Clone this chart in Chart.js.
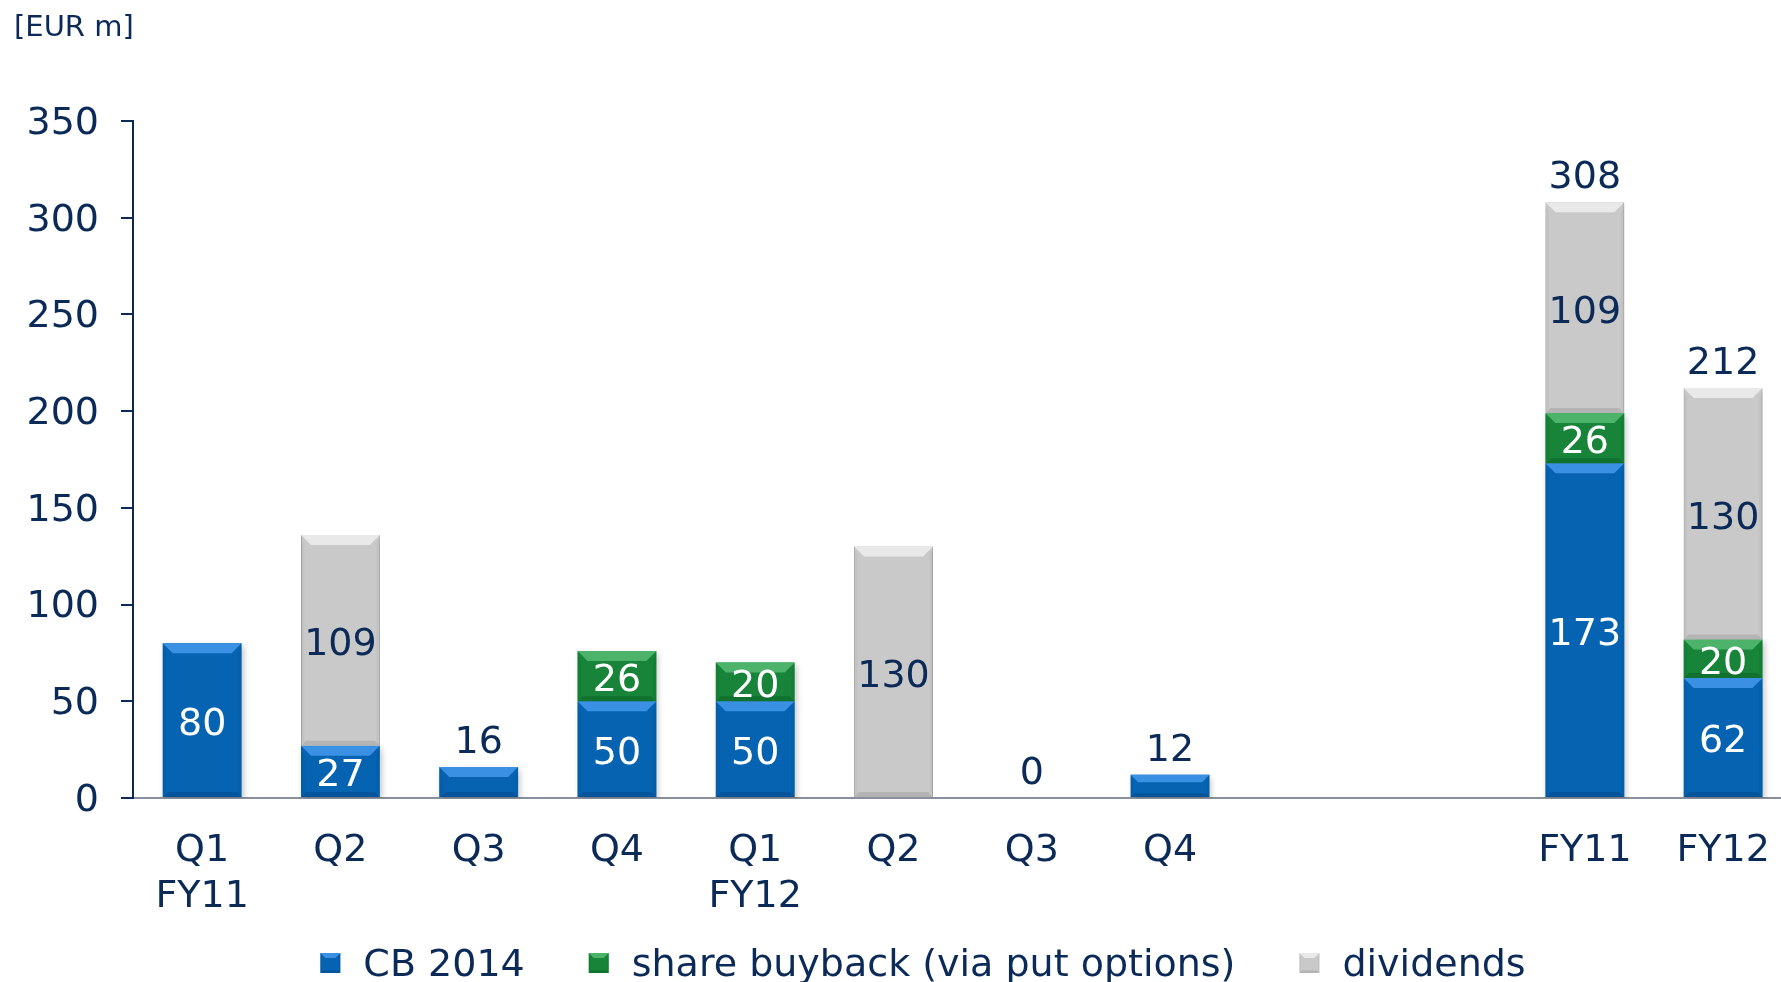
<!DOCTYPE html>
<html>
<head>
<meta charset="utf-8">
<script src="https://cdn.jsdelivr.net/npm/chart.js@4.4.1/dist/chart.umd.min.js"></script>
<style>
  html, body { margin: 0; padding: 0; background: #fff; overflow: hidden; }
  #wrap { width: 1800px; height: 982px; }
</style>
</head>
<body>
<div id="wrap"><canvas id="payout_chart"></canvas></div>
<script>
// data
var categories = [['Q1', 'FY11'], 'Q2', 'Q3', 'Q4', ['Q1', 'FY12'], 'Q2', 'Q3', 'Q4', '', '', 'FY11', 'FY12']
var cb2014 = [80, 27, 16, 50, 50, null, 0, 12, null, null, 173, 62]
var buyback = [null, null, null, 26, 20, null, null, null, null, null, 26, 20]
var dividends = [null, 109, null, null, null, 130, null, null, null, null, 109, 130]
var topLabels = [null, null, 16, null, null, null, 0, 12, null, null, 308, 212]
var yTicks = [0, 50, 100, 150, 200, 250, 300, 350]

var navy = '#0b2a57'
var fontFamily = '"DejaVu Sans", Verdana, sans-serif'

// draws the bevelled look on top of a flat rectangle
function bevel(ctx, l, t, r, b, light, dark, d) {
  if (b - t <= 1) return
  d = Math.min(d, (b - t) / 3)
  var db = d * 0.5
  ctx.fillStyle = light
  ctx.beginPath()
  ctx.moveTo(l, t); ctx.lineTo(r, t); ctx.lineTo(r - d, t + d); ctx.lineTo(l + d, t + d)
  ctx.closePath(); ctx.fill()
  ctx.fillStyle = dark
  ctx.beginPath()
  ctx.moveTo(l, b); ctx.lineTo(r, b); ctx.lineTo(r - db, b - db); ctx.lineTo(l + db, b - db)
  ctx.closePath(); ctx.fill()
  ctx.globalAlpha = 0.35
  ctx.beginPath()
  ctx.moveTo(l, t); ctx.lineTo(l + d / 3, t + d); ctx.lineTo(l + d / 3, b - db); ctx.lineTo(l, b)
  ctx.closePath(); ctx.fill()
  ctx.beginPath()
  ctx.moveTo(r, t); ctx.lineTo(r - d / 3, t + d); ctx.lineTo(r - d / 3, b - db); ctx.lineTo(r, b)
  ctx.closePath(); ctx.fill()
  ctx.globalAlpha = 1
}

// soft drop shadow under the bars
var shadowPlugin = {
  id: 'barShadow',
  beforeDatasetsDraw: function (chart) {
    var ctx = chart.ctx
    ctx.save()
    ctx.shadowColor = 'rgba(0, 0, 0, 0.22)'
    ctx.shadowBlur = 6
    ctx.shadowOffsetX = 2
    ctx.shadowOffsetY = 3
  },
  afterDatasetsDraw: function (chart) {
    chart.ctx.restore()
  }
}

var bevelPlugin = {
  id: 'bevel',
  afterDatasetsDraw: function (chart) {
    var ctx = chart.ctx
    ctx.save()
    chart.data.datasets.forEach(function (ds, i) {
      chart.getDatasetMeta(i).data.forEach(function (bar, j) {
        if (ds.data[j] == null || ds.data[j] <= 0) return
        var half = bar.width / 2
        bevel(ctx, bar.x - half, Math.min(bar.y, bar.base), bar.x + half, Math.max(bar.y, bar.base), ds.light, ds.dark, 10)
      })
    })
    ctx.restore()
  }
}

var labelPlugin = {
  id: 'valueLabels',
  afterDatasetsDraw: function (chart) {
    var ctx = chart.ctx
    ctx.save()
    ctx.font = '38px ' + fontFamily
    ctx.textAlign = 'center'
    ctx.textBaseline = 'middle'
    chart.data.datasets.forEach(function (ds, i) {
      chart.getDatasetMeta(i).data.forEach(function (bar, j) {
        var v = ds.data[j]
        if (v == null || v < 20) return
        ctx.fillStyle = ds.labelColor
        ctx.fillText(v, bar.x, (bar.y + bar.base) / 2 + 5)
      })
    })
    var xs = chart.scales.x, ys = chart.scales.y
    ctx.fillStyle = navy
    topLabels.forEach(function (v, j) {
      if (v == null) return
      ctx.fillText(v, xs.getPixelForValue(j), ys.getPixelForValue(v) - 24)
    })
    ctx.restore()
  }
}

var extrasPlugin = {
  id: 'extras',
  afterDraw: function (chart) {
    var ctx = chart.ctx
    ctx.save()
    // unit label
    ctx.fillStyle = navy
    ctx.font = '29px ' + fontFamily
    ctx.textAlign = 'left'
    ctx.textBaseline = 'middle'
    ctx.fillText('[EUR m]', 14, 28)
    // legend
    ctx.font = '38px ' + fontFamily
    var items = chart.data.datasets
    var widths = items.map(function (ds) { return 20 + 23 + ctx.measureText(ds.label).width })
    var total = widths.reduce(function (a, b) { return a + b }, 0) + 64 * (items.length - 1)
    var x = 923 - total / 2
    items.forEach(function (ds, i) {
      ctx.fillStyle = ds.backgroundColor
      ctx.fillRect(x, 953, 20, 20)
      bevel(ctx, x, 953, x + 20, 973, ds.light, ds.dark, 5)
      ctx.fillStyle = navy
      ctx.fillText(ds.label, x + 43, 966)
      x += widths[i] + 64
    })
    ctx.restore()
  }
}

var payout_chart = new Chart(document.getElementById('payout_chart'), {
  type: 'bar',
  data: {
    labels: categories,
    datasets: [{
      label: 'CB 2014',
      data: cb2014,
      backgroundColor: '#0563b1',
      light: '#3a90e2',
      dark: '#04559b',
      labelColor: '#ffffff'
    }, {
      label: 'share buyback (via put options)',
      data: buyback,
      backgroundColor: '#178439',
      light: '#4db26a',
      dark: '#117230',
      labelColor: '#ffffff'
    }, {
      label: 'dividends',
      data: dividends,
      backgroundColor: '#c9c9c9',
      light: '#e9e9e9',
      dark: '#b4b4b4',
      borderColor: '#a0a0a0',
      borderWidth: 1,
      labelColor: navy
    }]
  },
  options: {
    responsive: true,
    maintainAspectRatio: false,
    animation: false,
    events: [],
    barPercentage: 0.57,
    categoryPercentage: 1.0,
    layout: { padding: { top: 121, bottom: 64, left: 0, right: 4 } },
    plugins: {
      legend: { display: false },
      tooltip: { enabled: false }
    },
    scales: {
      x: {
        stacked: true,
        offset: true,
        grid: { display: false, drawTicks: false },
        border: { color: '#8a8f9c', width: 2 },
        ticks: {
          color: navy,
          font: { family: fontFamily, size: 38, lineHeight: 1.21 },
          padding: 30,
          maxRotation: 0,
          autoSkip: false
        },
        afterFit: function (scale) { scale.height = 120 }
      },
      y: {
        stacked: true,
        min: 0,
        max: 350,
        afterBuildTicks: function (scale) {
          scale.ticks = yTicks.map(function (v) { return { value: v } })
        },
        grid: { drawOnChartArea: false, drawTicks: true, tickLength: 12, color: navy, lineWidth: 2 },
        border: { color: navy, width: 2 },
        ticks: {
          color: navy,
          font: { family: fontFamily, size: 38 },
          padding: 22,
          labelOffset: 3
        },
        afterFit: function (scale) { scale.width = 133 }
      }
    }
  },
  plugins: [shadowPlugin, bevelPlugin, labelPlugin, extrasPlugin]
})
</script>
</body>
</html>
